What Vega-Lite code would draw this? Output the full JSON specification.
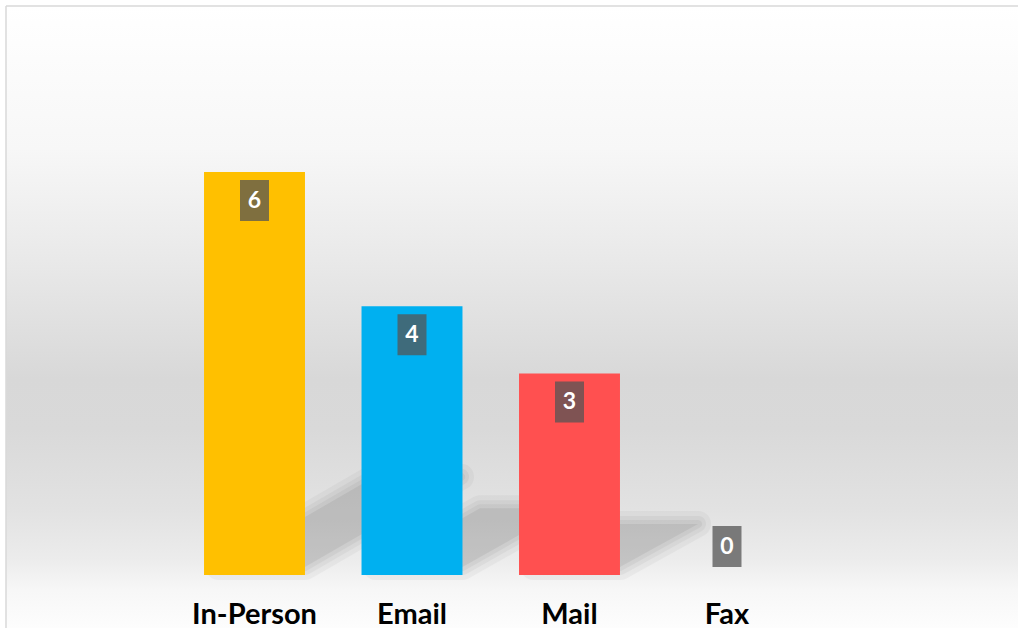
{
  "$schema": "https://vega.github.io/schema/vega-lite/v6.json",
  "width": 1012,
  "height": 622,
  "autosize": {"type": "none"},
  "padding": {"left": 6, "top": 6, "right": 0, "bottom": 0},
  "background": "#ffffff",
  "config": {"view": {"stroke": null}},
  "datasets": {
    "counts": [
      {"channel": "In-Person", "count": 6},
      {"channel": "Email", "count": 4},
      {"channel": "Mail", "count": 3},
      {"channel": "Fax", "count": 0}
    ],
    "frame": [{"part": "background"}]
  },
  "data": {"name": "counts"},
  "encoding": {
    "x": {
      "field": "channel",
      "type": "nominal",
      "sort": ["In-Person", "Email", "Mail", "Fax"],
      "scale": {"range": [169.75, 799.75], "paddingInner": 0.359, "paddingOuter": 0.1795},
      "axis": null
    }
  },
  "layer": [
    {
      "data": {"name": "frame"},
      "mark": {
        "type": "rect",
        "fill": {
          "gradient": "linear",
          "x1": 0, "y1": 0, "x2": 0, "y2": 1,
          "stops": [
            {"offset": 0, "color": "#ffffff"},
            {"offset": 0.23, "color": "#f7f7f7"},
            {"offset": 0.42, "color": "#e8e8e8"},
            {"offset": 0.6, "color": "#d8d8d8"},
            {"offset": 0.68, "color": "#d9d9d9"},
            {"offset": 0.81, "color": "#e2e2e2"},
            {"offset": 0.89, "color": "#ececec"},
            {"offset": 0.94, "color": "#f7f7f7"},
            {"offset": 1, "color": "#fdfdfd"}
          ]
        },
        "stroke": "#d9d9d9",
        "strokeWidth": 1.5,
        "strokeDash": [1012, 1634, 622, 0]
      },
      "encoding": {"x": null}
    },
    {
      "transform": [{"filter": "datum.count > 0"}],
      "mark": {"type": "point", "filled": true, "fill": "#000000", "stroke": "#000000", "strokeWidth": 26, "strokeJoin": "round", "opacity": 0.03, "size": 160000},
      "encoding": {
        "y": {"datum": 0, "type": "quantitative", "scale": {"domain": [0, 6], "range": [569, 166], "nice": false}, "axis": null},
        "shape": {
          "field": "channel",
          "type": "nominal",
          "scale": {
            "domain": ["In-Person", "Email", "Mail"],
            "range": [
              "M-0.18,-0.04L0.2525,-0.04L1.0325,-0.491L0.6,-0.491Z",
              "M-0.18,-0.04L0.2525,-0.04L0.7725,-0.334L0.34,-0.334Z",
              "M-0.18,-0.04L0.2525,-0.04L0.6425,-0.2555L0.21,-0.2555Z"
            ]
          },
          "legend": null
        }
      }
    },
    {
      "transform": [{"filter": "datum.count > 0"}],
      "mark": {"type": "point", "filled": true, "fill": "#000000", "stroke": "#000000", "strokeWidth": 16, "strokeJoin": "round", "opacity": 0.035, "size": 160000},
      "encoding": {
        "y": {"datum": 0, "type": "quantitative"},
        "shape": {"field": "channel", "type": "nominal", "legend": null}
      }
    },
    {
      "transform": [{"filter": "datum.count > 0"}],
      "mark": {"type": "point", "filled": true, "fill": "#000000", "stroke": "#000000", "strokeWidth": 8, "strokeJoin": "round", "opacity": 0.04, "size": 160000},
      "encoding": {
        "y": {"datum": 0, "type": "quantitative"},
        "shape": {"field": "channel", "type": "nominal", "legend": null}
      }
    },
    {
      "transform": [{"filter": "datum.count > 0"}],
      "mark": {"type": "point", "filled": true, "fill": "#000000", "strokeWidth": 0, "opacity": 0.06, "size": 160000},
      "encoding": {
        "y": {"datum": 0, "type": "quantitative"},
        "shape": {"field": "channel", "type": "nominal", "legend": null}
      }
    },
    {
      "mark": {"type": "bar"},
      "encoding": {
        "y": {"field": "count", "type": "quantitative"},
        "color": {
          "field": "channel",
          "type": "nominal",
          "scale": {"domain": ["In-Person", "Email", "Mail", "Fax"], "range": ["#FFC000", "#00B0F0", "#FF5050", "#A5A5A5"]},
          "legend": null
        }
      }
    },
    {
      "transform": [{"filter": "datum.count > 0"}],
      "mark": {"type": "point", "shape": "M-0.707,-1H0.707V1H-0.707Z", "filled": true, "fill": "#545454", "opacity": 0.75, "size": 1681, "yOffset": 28.5, "strokeWidth": 0},
      "encoding": {"y": {"field": "count", "type": "quantitative"}}
    },
    {
      "transform": [{"filter": "datum.count == 0"}],
      "mark": {"type": "point", "shape": "M-0.707,-1H0.707V1H-0.707Z", "filled": true, "fill": "#545454", "opacity": 0.75, "size": 1681, "yOffset": -28.5, "strokeWidth": 0},
      "encoding": {"y": {"field": "count", "type": "quantitative"}}
    },
    {
      "transform": [{"filter": "datum.count > 0"}],
      "mark": {"type": "text", "font": "Lato", "fontWeight": "bold", "fontSize": 23, "color": "#ffffff", "baseline": "middle", "dy": 28.5},
      "encoding": {"y": {"field": "count", "type": "quantitative"}, "text": {"field": "count", "type": "quantitative"}}
    },
    {
      "transform": [{"filter": "datum.count == 0"}],
      "mark": {"type": "text", "font": "Lato", "fontWeight": "bold", "fontSize": 23, "color": "#ffffff", "baseline": "middle", "dy": -28.5},
      "encoding": {"y": {"field": "count", "type": "quantitative"}, "text": {"field": "count", "type": "quantitative"}}
    },
    {
      "mark": {"type": "text", "font": "Lato", "fontWeight": "bold", "fontSize": 29, "color": "#000000", "baseline": "alphabetic", "dy": 48.5},
      "encoding": {"y": {"datum": 0, "type": "quantitative"}, "text": {"field": "channel", "type": "nominal"}}
    }
  ]
}
